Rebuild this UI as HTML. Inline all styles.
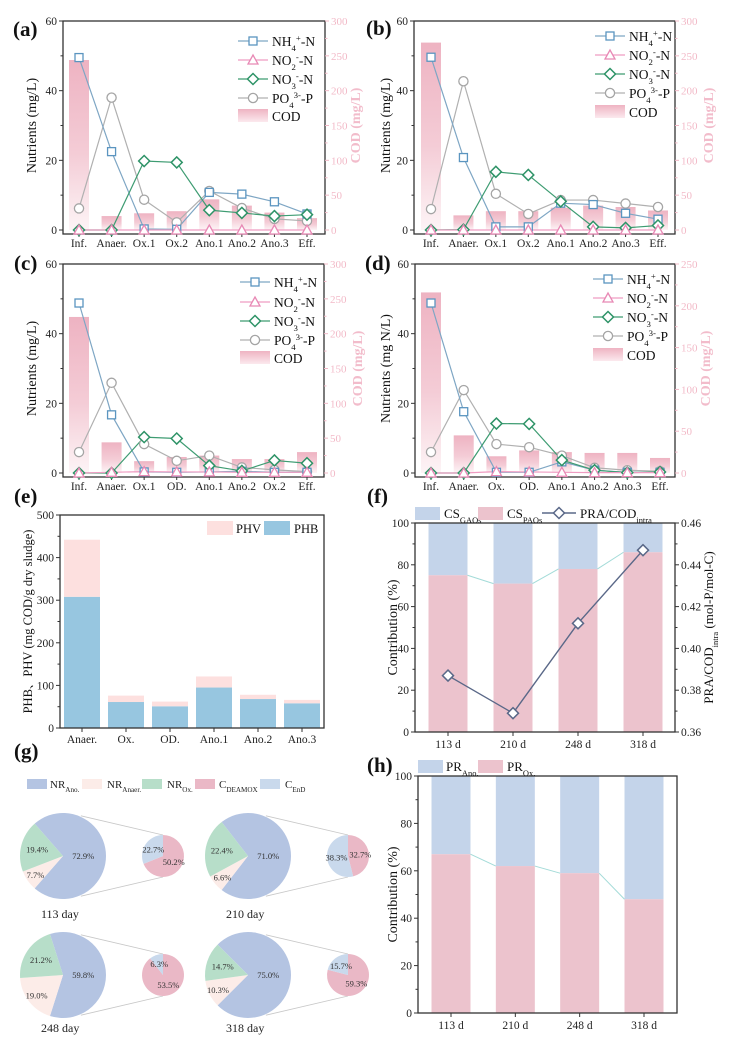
<!DOCTYPE html>
<html><head><meta charset="utf-8">
<style>
html,body{margin:0;padding:0;background:#fff;}
svg{display:block;font-family:"Liberation Serif","Noto Serif CJK SC",serif;}
</style></head>
<body>
<svg id="fig" width="730" height="1049" viewBox="0 0 730 1049" xmlns="http://www.w3.org/2000/svg">
<defs>
<linearGradient id="codgrad" x1="0" y1="0" x2="0" y2="1">
<stop offset="0" stop-color="#eeb3c2"/><stop offset="0.55" stop-color="#f4ccd6"/><stop offset="1" stop-color="#fdf4f6"/>
</linearGradient>
<linearGradient id="codleg" x1="0" y1="0" x2="0" y2="1">
<stop offset="0" stop-color="#eeb3c2"/><stop offset="1" stop-color="#fbe9ee"/>
</linearGradient>
</defs>
</svg>
<script>
// ---------- DATA ----------
const cats_a = ["Inf.","Anaer.","Ox.1","Ox.2","Ano.1","Ano.2","Ano.3","Eff."];
const nh4_a = [49.5,22.5,0.3,0.2,10.8,10.3,8.1,4.6];
const no2_a = [0,0,0,0,0,0,0,0];
const no3_a = [0,0,19.8,19.4,5.7,4.9,4.0,4.4];
const po4_a = [6.2,38,8.7,2.2,11.2,6.3,3.2,2.6];
const cod_a = [244,20,24,27,44,35,25,17];

const cats_b = ["Inf.","Anaer.","Ox.1","Ox.2","Ano.1","Ano.2","Ano.3","Eff."];
const nh4_b = [49.6,20.8,0.9,0.9,7.7,7.3,4.8,3.1];
const no2_b = [0,0,0,0,0,0,0,0];
const no3_b = [0,0.1,16.7,15.8,8.2,0.9,0.6,1.3];
const po4_b = [6.0,42.7,10.4,4.6,8.6,8.6,7.6,6.6];
const cod_b = [269,21,27,27,32,35,33,28];

const cats_c = ["Inf.","Anaer.","Ox.1","OD.","Ano.1","Ano.2","Ox.2","Eff."];
const nh4_c = [48.8,16.7,0.3,0.2,0.3,0.5,0.2,0.2];
const no2_c = [0,0.2,0.4,0.3,0.3,0.2,0.2,0.2];
const no3_c = [0,0,10.3,9.9,2.1,0.6,3.6,2.8];
const po4_c = [6.0,25.9,8.3,3.5,5.0,1.6,0.9,0.4];
const cod_c = [224,44,17,23,25,20,20,30];

const cats_d = ["Inf.","Anaer.","Ox.","OD.","Ano.1","Ano.2","Ano.3","Eff."];
const nh4_d = [48.8,17.6,0.2,0.2,3.2,0.8,0.2,0.2];
const no2_d = [0,0,0.4,0.3,0.2,0.1,0.1,0.1];
const no3_d = [0,0,14.2,14.1,3.7,0.8,0.1,0.3];
const po4_d = [6.0,23.8,8.3,7.4,5.0,1.5,0.8,0.5];
const cod_d = [216,45,20,27,25,24,24,18];

const cats_e = ["Anaer.","Ox.","OD.","Ano.1","Ano.2","Ano.3"];
const phb_e = [308,61,51,95,68,58];
const phv_e = [134,15,11,26,10,8];

const cats_f = ["113 d","210 d","248 d","318 d"];
const csPAO_f = [75,71,78,86];
const pra_f = [0.387,0.369,0.412,0.447];

const cats_h = ["113 d","210 d","248 d","318 d"];
const prOx_h = [67,62,59,48];

const days_g = ["113 day","210 day","248 day","318 day"];
const nrAno_g = [72.9,71.0,59.8,75.0];
const nrAnaer_g = [7.7,6.6,19.0,10.3];
const nrOx_g = [19.4,22.4,21.2,14.7];
const cDeamox_g = [50.2,32.7,53.5,59.3];
const cEnd_g = [22.7,38.3,6.3,15.7];

// ---------- HELPERS ----------
const NS='http://www.w3.org/2000/svg';
const svg=document.getElementById('fig');
function el(tag,attrs,parent){const e=document.createElementNS(NS,tag);for(const k in attrs)e.setAttribute(k,attrs[k]);(parent||svg).appendChild(e);return e;}
function txt(x,y,s,attrs,parent){const t=el('text',Object.assign({x:x,y:y},attrs||{}),parent);t.textContent=s;return t;}
function rich(x,y,parts,attrs,parent){const t=el('text',Object.assign({x:x,y:y},attrs||{}),parent);
 parts.forEach(p=>{const s=el('tspan',{},t);s.textContent=p[0];
  if(p[1]==='sub'){s.setAttribute('baseline-shift','sub');s.setAttribute('font-size','0.65em');}
  if(p[1]==='sup'){s.setAttribute('baseline-shift','super');s.setAttribute('font-size','0.65em');}
 });return t;}
function marker(type,x,y,color,parent){let m;
 if(type==='sq')m=el('rect',{x:x-4,y:y-4,width:8,height:8,fill:'#fff',stroke:color,'stroke-width':1.3},parent);
 else if(type==='tri')m=el('polygon',{points:`${x},${y-5} ${x+5},${y+4} ${x-5},${y+4}`,fill:'#fff',stroke:color,'stroke-width':1.3},parent);
 else if(type==='dia')m=el('polygon',{points:`${x},${y-5.5} ${x+5.5},${y} ${x},${y+5.5} ${x-5.5},${y}`,fill:'#fff',stroke:color,'stroke-width':1.5},parent);
 else m=el('circle',{cx:x,cy:y,r:4.6,fill:'#fff',stroke:color,'stroke-width':1.3},parent);
 return m;}
function plabel(x,y,s){const t=txt(x,y,s,{'font-size':21,'font-weight':'bold',fill:'#111'});
 
 }

// ---------- LINE PANELS ----------
const SER=[
 {key:'nh4',type:'sq',mc:'#5b95c0',lc:'#7ea6c4',leg:[['NH',''],['4','sub'],['+','sup'],['-N','']]},
 {key:'no2',type:'tri',mc:'#e889b5',lc:'#ef9cc2',leg:[['NO',''],['2','sub'],['-','sup'],['-N','']]},
 {key:'no3',type:'dia',mc:'#2e9367',lc:'#3e9c72',leg:[['NO',''],['3','sub'],['-','sup'],['-N','']]},
 {key:'po4',type:'ci',mc:'#a5a5a5',lc:'#b0b0b0',leg:[['PO',''],['4','sub'],['3-','sup'],['-P','']]}
];
function linePanel(p){
 const g=el('g',{});
 
 
 const n=p.cats.length;
 const X=i=>p.x0+i*(p.x1-p.x0)/(n-1);
 const Y=v=>p.zy-v/60*(p.zy-p.ty);
 const YR=v=>p.zy-v/p.rmax*(p.zy-p.ty);
 p.cod.forEach((v,i)=>{const r=el('rect',{x:X(i)-10,y:YR(v),width:20,height:p.zy-YR(v),fill:'url(#codgrad)'},g);
  
  });
 const box=el('rect',{x:p.l,y:p.ty,width:p.r-p.l,height:p.zy+4-p.ty,fill:'none',stroke:'#333','stroke-width':1.3},g);
 
 
 for(let v=0;v<=60;v+=10){const y=Y(v);const major=v%20===0;
  el('line',{x1:p.l-(major?4:2.5),x2:p.l,y1:y,y2:y,stroke:'#333','stroke-width':1},g);
  if(major){const t=txt(p.l-6,y+4,String(v),{'font-size':11.5,'text-anchor':'end',fill:'#222'},g);
   
   }}
 for(let v=0;v<=p.rmax;v+=25){const y=YR(v);const major=v%50===0;
  el('line',{x1:p.r,x2:p.r+(major?4:2.5),y1:y,y2:y,stroke:'#f0b8c6','stroke-width':1},g);
  if(major){const t=txt(p.r+6,y+4,String(v),{'font-size':11,fill:'#f2b9c7'},g);
   
   }}
 p.cats.forEach((c,i)=>{el('line',{x1:X(i),x2:X(i),y1:p.zy+4,y2:p.zy+7,stroke:'#333'},g);
  const t=txt(X(i),p.zy+17,c,{'font-size':11.5,'text-anchor':'middle',fill:'#222'},g);
  
  });
 const cy=(p.ty+p.zy)/2;
 const yt=txt(p.ylx,cy,p.ylabel,{'font-size':14,'text-anchor':'middle',fill:'#111',transform:`rotate(-90 ${p.ylx} ${cy})`},g);
 
 
 const rt=txt(p.rlx,cy,'COD (mg/L)',{'font-size':14,'font-weight':'bold','text-anchor':'middle',fill:'#f2bccb',transform:`rotate(-90 ${p.rlx} ${cy})`},g);
 
 
 const order=[3,0,2,1];
 order.forEach(si=>{const s=SER[si];const d=p[s.key];
  const pl=el('polyline',{points:d.map((v,i)=>X(i)+','+Y(v)).join(' '),fill:'none',stroke:s.lc,'stroke-width':1.2},g);
  
  });
 order.forEach(si=>{const s=SER[si];const d=p[s.key];
  d.forEach((v,i)=>{const m=marker(s.type,X(i),Y(v),s.mc,g);
   
   });});
 SER.forEach((s,k)=>{const y=p.legY[k];
  const lg=el('g',{},g);
  
  
  el('line',{x1:p.legX,x2:p.legX+30,y1:y,y2:y,stroke:s.lc,'stroke-width':1.2},lg);
  marker(s.type,p.legX+15,y,s.mc,lg);
  rich(p.legX+34,y+5,s.leg,{'font-size':13.5,fill:'#111'},lg);});
 const cl=el('g',{},g);
 
 
 el('rect',{x:p.legX,y:p.legY[4]-7,width:30,height:13,fill:'url(#codleg)'},cl);
 txt(p.legX+34,p.legY[4]+5,'COD',{'font-size':13.5,fill:'#111'},cl);
}
linePanel({name:'panel-a',cats:cats_a,nh4:nh4_a,no2:no2_a,no3:no3_a,po4:po4_a,cod:cod_a,l:63,r:325,ty:21,zy:230,x0:79,x1:307,rmax:300,ylx:36,rlx:360,ylabel:'Nutrients (mg/L)',legX:238,legY:[41,60,79,98,116]});
linePanel({name:'panel-b',cats:cats_b,nh4:nh4_b,no2:no2_b,no3:no3_b,po4:po4_b,cod:cod_b,l:414,r:675,ty:21,zy:230,x0:431,x1:658,rmax:300,ylx:390,rlx:713,ylabel:'Nutrients (mg/L)',legX:595,legY:[36,55,74,93,112]});
linePanel({name:'panel-c',cats:cats_c,nh4:nh4_c,no2:no2_c,no3:no3_c,po4:po4_c,cod:cod_c,l:63,r:324,ty:264,zy:473,x0:79,x1:307,rmax:300,ylx:36,rlx:362,ylabel:'Nutrients (mg/L)',legX:240,legY:[282,302,321,340,358]});
linePanel({name:'panel-d',cats:cats_d,nh4:nh4_d,no2:no2_d,no3:no3_d,po4:po4_d,cod:cod_d,l:415,r:675,ty:264,zy:473,x0:431,x1:660,rmax:250,ylx:390,rlx:710,ylabel:'Nutrients (mg N/L)',legX:593,legY:[279,298,317,336,355]});
plabel(13,36,'(a)');plabel(366,35,'(b)');plabel(14,270,'(c)');plabel(365,270,'(d)');

// ---------- PANEL E ----------
(function(){
 const g=el('g',{});
 
 
 const L=60,R=324,T=515,B=728;
 const Y=v=>B-v/500*(B-T);
 const n=cats_e.length,step=(302-82)/(n-1);
 const X=i=>82+i*step;
 cats_e.forEach((c,i)=>{
  const b1=el('rect',{x:X(i)-18,y:Y(phb_e[i]),width:36,height:B-Y(phb_e[i]),fill:'#97c6e0'},g);
  
  
  const tot=phb_e[i]+phv_e[i];
  const b2=el('rect',{x:X(i)-18,y:Y(tot),width:36,height:Y(phb_e[i])-Y(tot),fill:'#fde0df'},g);
  
  
  el('line',{x1:X(i),x2:X(i),y1:B,y2:B+4,stroke:'#333'},g);
  const t=txt(X(i),B+15,c,{'font-size':11.5,'text-anchor':'middle',fill:'#222'},g);
  
  
 });
 el('rect',{x:L,y:T,width:R-L,height:B-T,fill:'none',stroke:'#333','stroke-width':1.3},g);
 for(let v=0;v<=500;v+=50){const y=Y(v);const mj=v%100===0;
  el('line',{x1:L-(mj?4:2.5),x2:L,y1:y,y2:y,stroke:'#333'},g);
  if(mj){const t=txt(L-6,y+4,String(v),{'font-size':11.5,'text-anchor':'end',fill:'#222'},g);
   
   }}
 const cy=(T+B)/2;
 const yt=txt(32,cy,'PHB、PHV (mg COD/g dry sludge)',{'font-size':12.5,'text-anchor':'middle',fill:'#111',transform:`rotate(-90 32 ${cy})`},g);
 
 
 const l1=el('g',{},g);
 
 
 el('rect',{x:207,y:521,width:26,height:14,fill:'#fde0df'},l1);
 txt(236,533,'PHV',{'font-size':12.5,fill:'#111'},l1);
 const l2=el('g',{},g);
 
 
 el('rect',{x:264,y:521,width:26,height:14,fill:'#97c6e0'},l2);
 txt(294,533,'PHB',{'font-size':12.5,fill:'#111'},l2);
})();
plabel(14,503,'(e)');

// ---------- STACKED 100% PANELS ----------
function stackPanel(p){
 const g=el('g',{});
 
 
 const Y=v=>p.B-v/100*(p.B-p.T);
 const n=p.cats.length,step=(p.x1-p.x0)/(n-1);
 const X=i=>p.x0+i*step;
 const w=39;
 p.cats.forEach((c,i)=>{
  const a=el('rect',{x:X(i)-w/2,y:p.T,width:w,height:Y(p.pink[i])-p.T,fill:'#c4d4ea'},g);
  
  
  const b=el('rect',{x:X(i)-w/2,y:Y(p.pink[i]),width:w,height:p.B-Y(p.pink[i]),fill:'#ecc3cd'},g);
  
  
  if(i<n-1){const ln=el('line',{x1:X(i)+w/2,y1:Y(p.pink[i]),x2:X(i+1)-w/2,y2:Y(p.pink[i+1]),stroke:'#a3dbd8','stroke-width':1},g);
   
   }
  el('line',{x1:X(i),x2:X(i),y1:p.B,y2:p.B+4,stroke:'#333'},g);
  const t=txt(X(i),p.B+16,c,{'font-size':11.5,'text-anchor':'middle',fill:'#222'},g);
  
  
 });
 el('rect',{x:p.L,y:p.T,width:p.R-p.L,height:p.B-p.T,fill:'none',stroke:'#333','stroke-width':1.3},g);
 for(let v=0;v<=100;v+=10){const y=Y(v);const mj=v%20===0;
  el('line',{x1:p.L-(mj?4:2.5),x2:p.L,y1:y,y2:y,stroke:'#333'},g);
  if(mj){const t=txt(p.L-6,y+4,String(v),{'font-size':11.5,'text-anchor':'end',fill:'#222'},g);
   
   }}
 const cy=(p.T+p.B)/2;
 const yt=txt(p.ylx,cy,'Contribution (%)',{'font-size':14,'text-anchor':'middle',fill:'#111',transform:`rotate(-90 ${p.ylx} ${cy})`},g);
 
 
 return {g:g,X:X};
}
(function(){
 const P={name:'panel-f',cats:cats_f,pink:csPAO_f,L:415,R:675,T:523,B:732,x0:448,x1:643,ylx:397};
 const s=stackPanel(P);const g=s.g,X=s.X;
 const YR=v=>P.B-(v-0.36)/0.10*(P.B-P.T);
 for(let k=0;k<=10;k++){const v=0.36+k*0.01;const y=YR(v);const mj=k%2===0;
  el('line',{x1:P.R,x2:P.R+(mj?4:2.5),y1:y,y2:y,stroke:'#333'},g);
  if(mj){const t=txt(P.R+6,y+4,v.toFixed(2),{'font-size':11.5,fill:'#222'},g);
   
   }}
 const pl=el('polyline',{points:pra_f.map((v,i)=>X(i)+','+YR(v)).join(' '),fill:'none',stroke:'#5a6888','stroke-width':1.4},g);
 
 
 pra_f.forEach((v,i)=>{const m=marker('dia',X(i),YR(v),'#5a6888',g);
  
  });
 const cy=(P.T+P.B)/2;
 const rt=rich(709,cy+4,[['PRA/COD',''],['intra','sub'],[' (mol-P/mol-C)','']],{'font-size':13,'text-anchor':'middle',fill:'#111',transform:`rotate(-90 709 ${cy})`},g);
 
 
 const l1=el('g',{},g);
 
 
 el('rect',{x:415,y:507,width:25,height:13,fill:'#c4d4ea'},l1);
 rich(444,518,[['CS',''],['GAOs','sub']],{'font-size':13,fill:'#111'},l1);
 const l2=el('g',{},g);
 
 
 el('rect',{x:478,y:507,width:25,height:13,fill:'#ecc3cd'},l2);
 rich(507,518,[['CS',''],['PAOs','sub']],{'font-size':13,fill:'#111'},l2);
 const l3=el('g',{},g);
 
 
 el('line',{x1:542,x2:576,y1:513,y2:513,stroke:'#5a6888','stroke-width':1.4},l3);
 marker('dia',559,513,'#5a6888',l3);
 rich(580,518,[['PRA/COD',''],['intra','sub']],{'font-size':13,fill:'#111'},l3);
})();
plabel(367,503,'(f)');
(function(){
 const P={name:'panel-h',cats:cats_h,pink:prOx_h,L:418,R:677,T:776,B:1013,x0:451,x1:644,ylx:397};
 const s=stackPanel(P);const g=s.g;
 const l1=el('g',{},g);
 
 
 el('rect',{x:418,y:760,width:25,height:13,fill:'#c4d4ea'},l1);
 rich(446,771,[['PR',''],['Ano.','sub']],{'font-size':13,fill:'#111'},l1);
 const l2=el('g',{},g);
 
 
 el('rect',{x:478,y:760,width:25,height:13,fill:'#ecc3cd'},l2);
 rich(507,771,[['PR',''],['Ox.','sub']],{'font-size':13,fill:'#111'},l2);
})();
plabel(367,772,'(h)');

// ---------- PANEL G (pies) ----------
function arc(cx,cy,r,a0,a1){const rad=Math.PI/180;
 const x0=cx+r*Math.cos(a0*rad),y0=cy+r*Math.sin(a0*rad),x1=cx+r*Math.cos(a1*rad),y1=cy+r*Math.sin(a1*rad);
 const large=(a1-a0)>180?1:0;
 return `M${cx},${cy} L${x0},${y0} A${r},${r} 0 ${large} 1 ${x1},${y1} Z`;}
function pol(cx,cy,r,a){const rad=Math.PI/180;return [cx+r*Math.cos(a*rad),cy+r*Math.sin(a*rad)];}
const GC={ano:'#b4c4e2',anaer:'#fcece8',ox:'#b7dec9',deamox:'#eab8c6',end:'#c9d9ec'};
(function(){
 const g=el('g',{});
 
 
 const pos=[[63,856,163],[248,856,348],[63,975,163],[248,975,348]];
 const R=43,r=21;
 days_g.forEach((d,i)=>{
  const [cx,cy,sx]=pos[i];
  const pg=el('g',{},g);
  
  
  const pt=pol(cx,cy,R+1,-66),pb=pol(cx,cy,R+1,66);
  el('line',{x1:pt[0],y1:pt[1],x2:sx,y2:cy-r,stroke:'#c8c8c8','stroke-width':0.8},pg);
  el('line',{x1:pb[0],y1:pb[1],x2:sx,y2:cy+r,stroke:'#c8c8c8','stroke-width':0.8},pg);
  const tot=nrAno_g[i]+nrAnaer_g[i]+nrOx_g[i];
  const aAno=nrAno_g[i]/tot*360,aAn=nrAnaer_g[i]/tot*360,aOx=nrOx_g[i]/tot*360;
  const s0=-aAno/2;
  const s1=el('path',{d:arc(cx,cy,R,s0,s0+aAno),fill:GC.ano},pg);
  
  
  const s2=el('path',{d:arc(cx,cy,R,s0+aAno,s0+aAno+aAn),fill:GC.anaer},pg);
  
  
  const s3=el('path',{d:arc(cx,cy,R,s0+aAno+aAn,s0+aAno+aAn+aOx),fill:GC.ox},pg);
  
  
  const fa={'font-size':8.5,fill:'#333','text-anchor':'middle'};
  txt(cx+R*0.47,cy+3,nrAno_g[i].toFixed(1)+'%',fa,pg);
  let q=pol(cx,cy,R*0.78,s0+aAno+aAn/2);txt(q[0],q[1]+3,nrAnaer_g[i].toFixed(1)+'%',fa,pg);
  q=pol(cx,cy,R*0.62,s0+aAno+aAn+aOx/2);txt(q[0],q[1]+3,nrOx_g[i].toFixed(1)+'%',fa,pg);
  const st=cDeamox_g[i]+cEnd_g[i];
  const aD=cDeamox_g[i]/st*360;
  const p1=el('path',{d:arc(sx,cy,r,-90,-90+aD),fill:GC.deamox},pg);
  
  
  const p2=el('path',{d:arc(sx,cy,r,-90+aD,270),fill:GC.end},pg);
  
  
  q=pol(sx,cy,r*0.5,-90+aD/2);txt(q[0]+2,q[1]+3,cDeamox_g[i].toFixed(1)+'%',fa,pg);
  q=pol(sx,cy,r*0.55,-90+aD+(360-aD)/2);txt(q[0],q[1]+3,cEnd_g[i].toFixed(1)+'%',fa,pg);
  const dl=txt(cx-22,cy+(i<2?62:57),d,{'font-size':12,fill:'#222'},pg);
  
  
 });
 const items=[[27,50,GC.ano,[['NR',''],['Ano.','sub']]],[82,107,GC.anaer,[['NR',''],['Anaer.','sub']]],[142,167,GC.ox,[['NR',''],['Ox.','sub']]],[195,219,GC.deamox,[['C',''],['DEAMOX','sub']]],[260,285,GC.end,[['C',''],['EnD','sub']]]];
 items.forEach(it=>{const lg=el('g',{},g);
  
  
  el('rect',{x:it[0],y:779,width:20,height:10,fill:it[2]},lg);
  rich(it[1],788,it[3],{'font-size':11,fill:'#222'},lg);});
})();
plabel(14,758,'(g)');
</script>
</body></html>
